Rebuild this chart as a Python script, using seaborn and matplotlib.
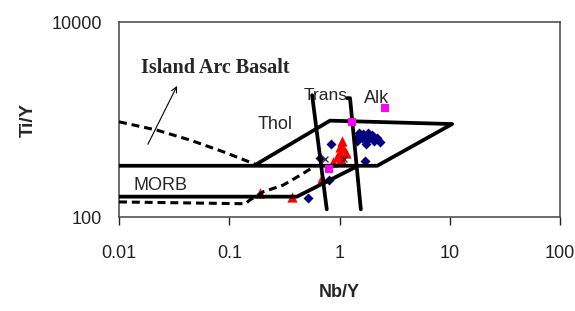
"""
Ti/Y versus Nb/Y discrimination diagram (log-log) with basalt fields
"""

## Import packages
import matplotlib
matplotlib.use('Agg')
import matplotlib.pyplot as plt
import seaborn as sns


## Field boundaries (Nb/Y, Ti/Y)
# Thol/Trans/Alk field outline plus the upper horizontal limit of MORB
field_x = [0.17, 0.82, 10.5, 2.2, 0.01]
field_y = [340, 975, 900, 336, 336]

# Lower MORB limit
morb_x = [0.01, 0.41, 1.43]
morb_y = [162, 162, 330]

# Thol / Trans and Trans / Alk dividers
trans_left_x = [0.564, 0.766]
trans_left_y = [1780, 120]
trans_right_x = [1.17, 1.245, 1.56]
trans_right_y = [1660, 1660, 120]

# Island arc basalt dashed limits
iab_upper_x = [0.01, 0.022, 0.044, 0.088, 0.17]
iab_upper_y = [948, 780, 617, 468, 350]
iab_lower_x = [0.01, 0.14, 0.154, 0.204, 0.309, 0.47, 0.6]
iab_lower_y = [143, 137, 150, 182, 213, 281, 335]

## Samples
blue_x = [0.83, 1.64, 1.82, 1.96, 2.17, 1.54, 1.43, 1.77, 2.33, 1.70, 0.665, 0.81, 0.52,
          1.6, 1.9, 2.05, 1.5, 1.75, 1.45]
blue_y = [561, 710, 721, 693, 641, 677, 606, 617, 592, 378, 400, 240, 156,
          650, 660, 610, 720, 560, 650]
red_x = [1.06, 1.01, 1.08, 1.15, 1.01, 0.94, 0.88, 1.04, 0.19, 0.37, 0.69]
red_y = [606, 526, 507, 450, 450, 409, 369, 391, 177, 162, 251]
magenta_x = [2.59, 1.29, 0.81]
magenta_y = [1310, 955, 313]
cross_x = [0.74, 1.1]
cross_y = [391, 391]

# Axis ticks
x_ticks = [0.01, 0.1, 1, 10, 100]
x_labels = ['0.01', '0.1', '1', '10', '100']
y_ticks = [100, 10000]
y_labels = ['100', '10000']


## Create figure
sns.set_theme(context='paper', style='ticks')
plt.rcParams['font.family'] = ['Liberation Sans', 'DejaVu Sans']

fig, ax = plt.subplots(figsize=(5.75, 3.11), dpi=100)
fig.subplots_adjust(left=0.207, right=0.974, bottom=0.302, top=0.929)

ax.set_xscale('log')
ax.set_yscale('log')

# Points (drawn under the field lines)
sns.scatterplot(x=red_x, y=red_y, ax=ax, marker='^', s=55, color='#ff0000', linewidth=0, zorder=2)
sns.scatterplot(x=blue_x, y=blue_y, ax=ax, marker='D', s=26, color='#000080', linewidth=0, zorder=2)
sns.scatterplot(x=magenta_x, y=magenta_y, ax=ax, marker='s', s=40, color='#ff00ff', linewidth=0, zorder=4)
sns.scatterplot(x=cross_x, y=cross_y, ax=ax, marker='x', s=18, color='#333333', linewidth=1, zorder=2)

# Solid boundaries
for lx, ly in [(field_x, field_y), (morb_x, morb_y),
               (trans_left_x, trans_left_y), (trans_right_x, trans_right_y)]:
    sns.lineplot(x=lx, y=ly, ax=ax, sort=False, estimator=None, color='black', linewidth=2.7, zorder=3)

# Dashed boundaries
for lx, ly in [(iab_upper_x, iab_upper_y), (iab_lower_x, iab_lower_y)]:
    sns.lineplot(x=lx, y=ly, ax=ax, sort=False, estimator=None, color='black', linewidth=2.2,
                 dashes=False, linestyle=(0, (2.6, 1.6)), zorder=3)

# Field labels
ax.text(0.26, 880, 'Thol', fontsize=13, ha='center', va='center')
ax.text(0.75, 1780, 'Trans', fontsize=12.5, ha='center', va='center')
ax.text(2.15, 1660, 'Alk', fontsize=13, ha='center', va='center')
ax.text(0.0236, 213, 'MORB', fontsize=13, ha='center', va='center')
ax.text(0.0158, 3375, 'Island Arc Basalt', fontsize=14.5, fontweight='bold', ha='left', va='center',
        family=['Liberation Serif', 'DejaVu Serif'])
ax.annotate('', xy=(0.0345, 2350), xytext=(0.0178, 526),
            arrowprops=dict(arrowstyle='->', color='black', lw=0.8))

# Axes
ax.set_xlim(0.01, 100)
ax.set_ylim(100, 10000)
ax.set_xticks(x_ticks)
ax.set_xticklabels(x_labels)
ax.set_yticks(y_ticks)
ax.set_yticklabels(y_labels)
ax.minorticks_off()
ax.tick_params(axis='x', direction='out', length=6, width=1, pad=14, labelsize=13, colors='#222222')
ax.tick_params(axis='y', length=0, pad=12, labelsize=13, colors='#222222')
ax.set_xlabel('Nb/Y', fontsize=13, fontweight='bold', labelpad=16)
ax.set_ylabel('Ti/Y', fontsize=13.5, fontweight='bold', labelpad=11)

for sp in ax.spines.values():
    sp.set_visible(True)
    sp.set_color('#444444')
    sp.set_linewidth(1.1)

plt.savefig('out.png', dpi=100)
